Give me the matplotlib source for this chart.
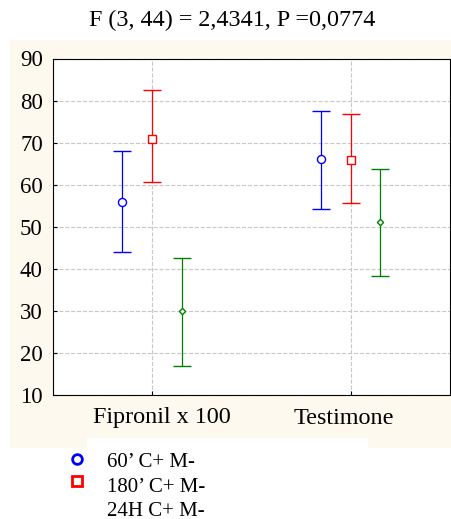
import numpy as np
import matplotlib
matplotlib.use("Agg")
import matplotlib.pyplot as plt
import matplotlib.transforms as mtransforms
from matplotlib.lines import Line2D
from matplotlib.patches import Rectangle

# dati
groups = ["Fipronil x 100", "Testimone"]
series = ["60\u2019 C+ M-", "180\u2019 C+ M-", "24H C+ M-"]
mean_60 = [55.9, 66.0]
low_60 = [44.0, 54.3]
high_60 = [68.1, 77.4]
mean_180 = [70.9, 65.9]
low_180 = [60.6, 55.6]
high_180 = [82.4, 76.8]
mean_24 = [30.0, 51.2]
low_24 = [16.9, 38.2]
high_24 = [42.6, 63.7]

plt.rcParams['font.family'] = ['Liberation Serif', 'DejaVu Serif']

fig = plt.figure(figsize=(4.51, 5.19), dpi=100)
fig.patch.set_facecolor('white')

# sfondo crema e riquadro bianco della legenda
fig.add_artist(Rectangle((10 / 451, 1 - 448 / 519), 441 / 451, 408 / 519,
                         transform=fig.transFigure, facecolor='#fdf9ee',
                         edgecolor='none', zorder=0))
fig.add_artist(Rectangle((87 / 451, 1 - 448 / 519), 281 / 451, 10 / 519,
                         transform=fig.transFigure, facecolor='white',
                         edgecolor='none', zorder=0))

ax = fig.add_axes([52.5 / 451, 1 - 395 / 519, 397.5 / 451, 336.5 / 519])
ax.set_facecolor('white')

x = np.arange(len(groups))
styles = [
    (mean_60, low_60, high_60, 'blue', 'o', 5.8, -0.15),
    (mean_180, low_180, high_180, 'red', 's', 6.3, 0.0),
    (mean_24, low_24, high_24, 'green', 'D', 3.2, 0.15),
]
for m, lo, hi, col, mk, ms, off in styles:
    m = np.array(m)
    yerr = [m - np.array(lo), np.array(hi) - m]
    ax.errorbar(x + off, m, yerr=yerr, fmt=mk, color=col, ecolor=col,
                mfc='white', mec=col, ms=ms, mew=1.0, elinewidth=0.9,
                capsize=6.8, capthick=0.9, zorder=3)

ax.set_xlim(-0.5, 1.5)
ax.set_ylim(10, 90)
ax.set_yticks(np.arange(10, 91, 10))
ax.set_xticks(x)
ax.set_xticklabels(groups)
ax.tick_params(axis='both', direction='in', length=3)
ax.tick_params(axis='y', pad=7, labelsize=16.5)
ax.tick_params(axis='x', pad=9, labelsize=17.4)
# le etichette dell'asse x sono leggermente spostate come nell'originale
for lab, dx in zip(ax.get_xticklabels(), [10, -7]):
    lab.set_transform(lab.get_transform() +
                      mtransforms.ScaledTranslation(dx / 100, 0, fig.dpi_scale_trans))
ax.grid(True, linestyle='--', color='#c8c8c8', linewidth=0.8)
ax.set_axisbelow(True)
for s in ax.spines.values():
    s.set_color('black')
    s.set_linewidth(0.8)

fig.text(232 / 451, 1 - 20 / 519, "F (3, 44) = 2,4341, P =0,0774",
         ha='center', va='center', fontsize=17.4)

# legenda manuale
leg_marker_y = [459, 480.5, None]
leg_text_y = [467, 491.5, 515.5]
leg_marks = [('o', 'blue', 7), ('s', 'red', 7.5), (None, 'none', 0)]
for lab, my, ty, (mk, col, ms) in zip(series, leg_marker_y, leg_text_y, leg_marks):
    if mk is not None:
        fig.add_artist(Line2D([77 / 451], [1 - my / 519], marker=mk, color=col,
                              mfc='none', mec=col, ms=ms, mew=2,
                              linestyle='none', transform=fig.transFigure))
    fig.text(107 / 451, 1 - ty / 519, lab, ha='left', va='baseline', fontsize=15)

fig.savefig("out.png", dpi=100)
